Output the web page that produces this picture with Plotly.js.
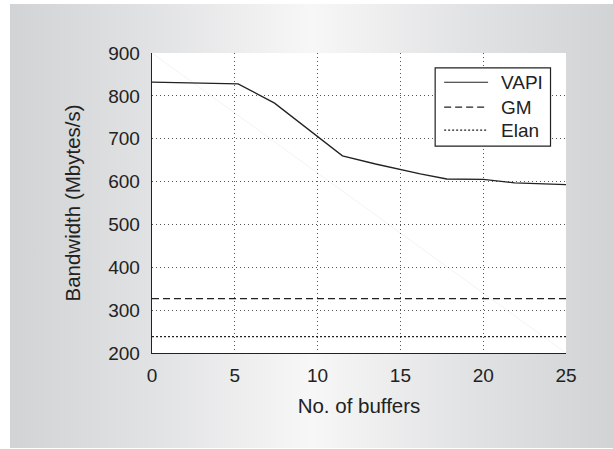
<!DOCTYPE html>
<html>
<head>
<meta charset="utf-8">
<script src="https://cdn.plot.ly/plotly-3.0.1.min.js"></script>
<style>
  html, body { margin: 0; padding: 0; background: #ffffff; }
  #wrap { position: relative; width: 613px; height: 449px; overflow: hidden; }
  #panel {
    position: absolute; left: 10px; top: 4px; right: 0; bottom: 1px;
    background: linear-gradient(to right, #d2d3d5 0%, #e2e3e4 25%, #f7f7f7 50%, #e2e3e4 75%, #d2d3d5 100%);
  }
  #chart { position: absolute; left: 0; top: 0; width: 613px; height: 449px; }
</style>
</head>
<body>
<div id="wrap">
  <div id="panel"></div>
  <div id="chart"></div>
</div>
<script>
// Bandwidth versus number of buffers
const vapiBuffers = [0, 5.2, 7.4, 11.5, 13.5, 15, 16.2, 17.8, 20, 21.9, 25];
const vapiBandwidth = [832, 828, 783, 660, 641, 628, 618, 606, 605, 597, 593];
const gmBandwidth = 327;
const elanBandwidth = 238;
const bufferRange = [0, 25];
const seriesNames = ['VAPI', 'GM', 'Elan'];
const seriesDash = ['solid', '7px,4px', '2px,2px'];

const W = 613, H = 449;
const M = { l: 151.5, r: 47, t: 52.7, b: 95.7 };
const ink = '#222222';
const family = 'Liberation Sans, Arial, sans-serif';
const tickFont = { family: family, size: 19, color: ink };
const titleFont = { family: family, size: 20.5, color: ink };

// pixel position -> paper fraction of the plotting area
const px = v => (v - M.l) / (W - M.l - M.r);
const py = v => (H - M.b - v) / (H - M.t - M.b);

const traces = [
  { name: seriesNames[0], x: vapiBuffers, y: vapiBandwidth, mode: 'lines',
    line: { color: ink, width: 1.3 } },
  { name: seriesNames[1], x: bufferRange, y: bufferRange.map(() => gmBandwidth), mode: 'lines',
    line: { color: ink, width: 1.2, dash: seriesDash[1] } },
  { name: seriesNames[2], x: bufferRange, y: bufferRange.map(() => elanBandwidth), mode: 'lines',
    line: { color: ink, width: 1.2, dash: seriesDash[2] } }
];

// boxed key in the upper right of the plotting area
const key = { left: 435, right: 550.5, top: 67.7, bottom: 146,
              lineStart: 444, lineEnd: 488, textStart: 499, rows: [82, 107, 130] };

const shapes = [
  // faint diagonal streak across the plotting area
  { type: 'line', xref: 'paper', yref: 'paper', x0: 0, y0: 1, x1: 1, y1: 0,
    line: { color: '#f3f3f3', width: 1 }, layer: 'below' },
  { type: 'rect', xref: 'paper', yref: 'paper',
    x0: px(key.left), x1: px(key.right), y0: py(key.bottom), y1: py(key.top),
    line: { color: ink, width: 1.2 }, fillcolor: '#ffffff', layer: 'above' }
];
const annotations = [];
seriesNames.forEach((name, i) => {
  shapes.push({ type: 'line', xref: 'paper', yref: 'paper',
    x0: px(key.lineStart), x1: px(key.lineEnd), y0: py(key.rows[i]), y1: py(key.rows[i]),
    line: { color: ink, width: 1.2, dash: seriesDash[i] }, layer: 'above' });
  annotations.push({ xref: 'paper', yref: 'paper', x: px(key.textStart), y: py(key.rows[i]),
    xanchor: 'left', yanchor: 'middle', text: name, showarrow: false, font: tickFont });
});

const layout = {
  width: W, height: H,
  paper_bgcolor: 'rgba(0,0,0,0)',
  plot_bgcolor: '#ffffff',
  margin: M,
  font: tickFont,
  showlegend: false,
  shapes: shapes,
  annotations: annotations,
  xaxis: {
    range: bufferRange, dtick: 5, tick0: 0,
    showline: true, linecolor: ink, linewidth: 1.3, mirror: false,
    showgrid: true, gridcolor: '#555555', gridwidth: 1, griddash: '1px,3px',
    zeroline: false, ticks: '', ticklabelstandoff: 5, tickfont: tickFont,
    title: { text: 'No. of buffers', font: titleFont, standoff: 13 }
  },
  yaxis: {
    range: [200, 900], dtick: 100, tick0: 200,
    showline: true, linecolor: ink, linewidth: 1.3, mirror: false,
    showgrid: true, gridcolor: '#555555', gridwidth: 1, griddash: '1px,3px',
    zeroline: false, ticks: '', ticklabelstandoff: 7, tickfont: tickFont,
    title: { text: 'Bandwidth (Mbytes/s)', font: titleFont, standoff: 22 }
  }
};

Plotly.newPlot('chart', traces, layout, { staticPlot: true, displayModeBar: false });
</script>
</body>
</html>
